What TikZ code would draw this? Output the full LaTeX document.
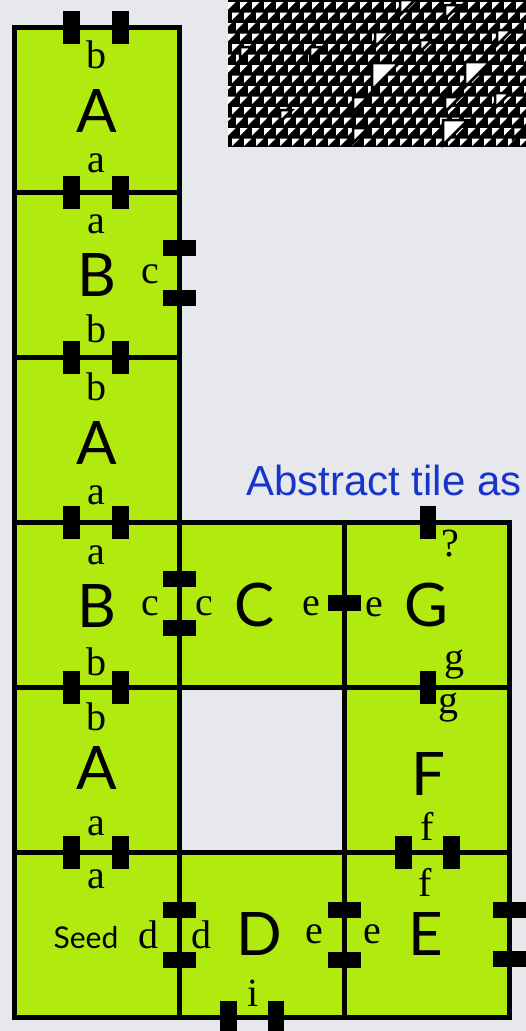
\documentclass[tikz,border=0pt]{standalone}
\usepackage{fontspec}
\setmainfont{Liberation Serif}
\newfontfamily\tilefont{Lato}
\newfontfamily\titlefont{Liberation Sans}
\definecolor{tilegreen}{RGB}{176,234,14}
\definecolor{backgrey}{RGB}{230,232,236}
\definecolor{titleblue}{RGB}{24,52,204}
\begin{document}
\begin{tikzpicture}[x=1pt,y=-1pt]
\tikzset{
    tile/.style={fill=tilegreen, draw=black, line width=5pt},
    glue/.style={fill=black},
    tilename/.style={font=\tilefont\fontsize{60}{60}\selectfont, inner sep=0pt},
    seedname/.style={font=\tilefont\fontsize{30}{30}\selectfont, inner sep=0pt, anchor=base},
    gluelab/.style={font=\fontsize{40}{40}\selectfont, inner sep=0pt, anchor=base},
    title/.style={font=\titlefont\fontsize{42}{42}\selectfont, text=titleblue, inner sep=0pt, anchor=base west}}
\def\s{165}
\def\tw{16.5}
\def\th{33}

\fill[backgrey] (0,0) rectangle (526,1031);
\useasboundingbox (0,0) rectangle (526,1031);

% automaton picture
\begin{scope}
\clip (228,0) rectangle (526,147);
\fill[black] (228,0) rectangle (526,147);
\foreach \j in {0,...,14}{
    \foreach \i in {-1,...,25}{
        \fill[white] ({228+12*\i+mod(4*\j,12)},{10.5*\j+2})--++(7.5,0)--++(-7.5,7.5)--cycle;
    }
}
\foreach \x/\y/\z in {240/47/12, 310/47/12, 375/32/15, 372/63/27, 353/97/15, 353/128/15, 280/110/12,
    400/0/15, 445/5/14, 465/62/25, 445/97/15, 443/120/25, 497/30/15, 495/93/15, 513/127/12, 420/40/12}{
    \filldraw[white, draw=black, line width=2.5pt] (\x,\y)--++(\z,0)--++(-\z,\z)--cycle;
}
\end{scope}

\node[title] (ttl) at (246,495) {Abstract tile as};

% tiles
\foreach \c/\r in {0/0,0/1,0/2,0/3,0/4,0/5,1/3,2/3,2/4,1/5,2/5}{
    \draw[tile] (14+\s*\c,27+\s*\r) rectangle ++(\s,\s);
}

% glues on horizontal edges
\foreach \y in {27,192,357,522,687,852}{
    \fill[glue] (71.5-\tw/2,\y-\th/2) rectangle ++(\tw,\th);
    \fill[glue] (120.5-\tw/2,\y-\th/2) rectangle ++(\tw,\th);
}
\foreach \x/\y in {428/522, 428/687, 403.5/852, 451.5/852, 228.5/1017, 276/1017}{
    \fill[glue] (\x-\tw/2,\y-\th/2) rectangle ++(\tw,\th);
}
% glues on vertical edges
\foreach \x/\y in {179/248, 179/298, 179/579, 179/628, 344/603,
    179/910, 179/960, 344/910, 344/960, 509/910, 509/959}{
    \fill[glue] (\x-\th/2,\y-\tw/2) rectangle ++(\th,\tw);
}

% left column
\node[tilename] (A0) at (96.5,111.5) {A};
\node[gluelab] (A0n) at (96.5,68) {b};
\node[gluelab] (A0s) at (96.5,172) {a};

\node[tilename] (B1) at (96.5,275) {B};
\node[gluelab] (B1n) at (96.5,233) {a};
\node[gluelab] (B1e) at (150,283) {c};
\node[gluelab] (B1s) at (96.5,342) {b};

\node[tilename] (A2) at (96.5,443) {A};
\node[gluelab] (A2n) at (96.5,400) {b};
\node[gluelab] (A2s) at (96.5,504) {a};

\node[tilename] (B3) at (96.5,606) {B};
\node[gluelab] (B3n) at (96.5,564) {a};
\node[gluelab] (B3e) at (150,615) {c};
\node[gluelab] (B3s) at (96.5,675) {b};

\node[tilename] (A4) at (96.5,768) {A};
\node[gluelab] (A4n) at (96.5,730) {b};
\node[gluelab] (A4s) at (96.5,835) {a};

\node[seedname] (S5) at (86,948) {Seed};
\node[gluelab] (S5n) at (96.5,888) {a};
\node[gluelab] (S5e) at (148,948) {d};

% middle and right
\node[tilename] (C) at (254.7,605) {C};
\node[gluelab] (Cw) at (204,615) {c};
\node[gluelab] (Ce) at (311,615) {e};

\node[tilename] (G) at (426,605) {G};
\node[gluelab] (Gw) at (374.5,616) {e};
\node[gluelab] (Gn) at (450,556) {?};
\node[gluelab] (Gs) at (454,670) {g};

\node[tilename] (F) at (428,774) {F};
\node[gluelab] (Fn) at (448,713) {g};
\node[gluelab] (Fs) at (427.5,840) {f};

\node[tilename] (D) at (259,934) {D};
\node[gluelab] (Dw) at (201.7,948) {d};
\node[gluelab] (De) at (314,943) {e};
\node[gluelab] (Ds) at (253,1006) {i};

\node[tilename] (E) at (426,933.5) {E};
\node[gluelab] (En) at (425,896) {f};
\node[gluelab] (Ew) at (372,943) {e};
\end{tikzpicture}
\end{document}
